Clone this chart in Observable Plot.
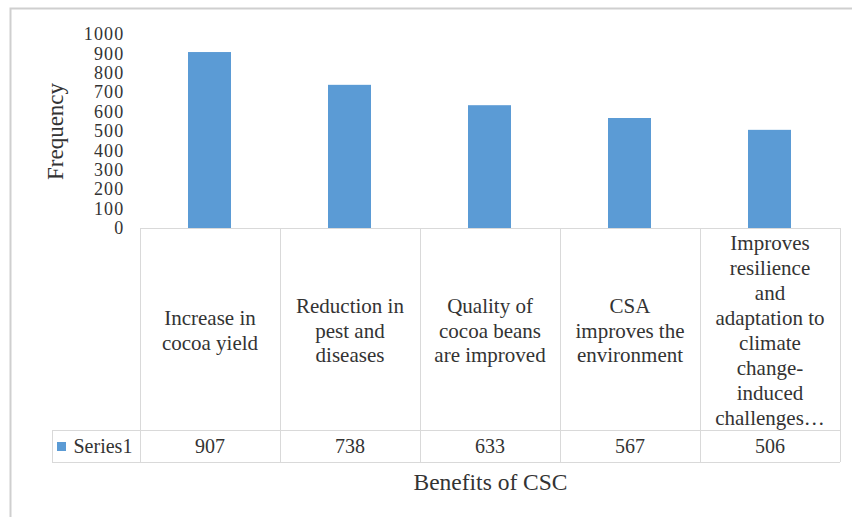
<!DOCTYPE html>
<html>
<head>
<meta charset="utf-8">
<script src="https://cdn.jsdelivr.net/npm/d3@7"></script>
<script src="https://cdn.jsdelivr.net/npm/@observablehq/plot@0.6"></script>
<style>
  html, body { margin: 0; padding: 0; background: #ffffff; }
  #chart { width: 852px; height: 517px; }
  #chart g[aria-label="y-axis tick label"] { letter-spacing: 1.2px; }
</style>
</head>
<body>
<div id="chart"></div>
<script>
// Benefits of climate-smart cocoa (CSC), frequency of responses
const categories = [
  "Increase in\ncocoa yield",
  "Reduction in\npest and\ndiseases",
  "Quality of\ncocoa beans\nare improved",
  "CSA\nimproves the\nenvironment",
  "Improves\nresilience\nand\nadaptation to\nclimate\nchange-\ninduced\nchallenges…"
];
const values = [907, 738, 633, 567, 506];
const yTicks = [0, 100, 200, 300, 400, 500, 600, 700, 800, 900, 1000];
const seriesName = "Series1";
const xTitle = "Benefits of CSC";
const yTitle = "Frequency";

const barColor = "#5b9bd5";
const gridColor = "#d9d9d9";
const textColor = "#333333";
const serif = "Liberation Serif";

const rows = categories.map((category, i) => ({category, value: values[i]}));

// Data-table geometry below the axis line
const headerRowHeight = 202;
const valueRowHeight = 32;

// Draws the data table grid, legend swatch and outer chart border
function dataTable(index, scales, channels, dims) {
  const {width, height, marginLeft, marginRight, marginBottom} = dims;
  const x0 = marginLeft, x1 = width - marginRight;
  const yAxis = height - marginBottom;
  const yRow = yAxis + headerRowHeight;
  const yEnd = yRow + valueRowHeight;
  const step = (x1 - x0) / categories.length;
  const legendLeft = x0 - 88;
  const g = d3.create("svg:g").attr("fill", "none").attr("stroke", gridColor).attr("stroke-width", 1);
  // outer chart border (top and left)
  g.append("path")
    .attr("d", `M10.5,${height}V8.5H${width}`)
    .attr("stroke", "#cfcfcf").attr("stroke-width", 2);
  // axis line / top of table
  g.append("path").attr("d", `M${x0},${yAxis + 0.5}H${x1}`);
  // row separators
  g.append("path").attr("d", `M${legendLeft},${yRow + 0.5}H${x1}`);
  g.append("path").attr("d", `M${legendLeft},${yEnd + 0.5}H${x1}`);
  g.append("path").attr("d", `M${legendLeft + 0.5},${yRow}V${yEnd}`);
  // column separators
  d3.range(categories.length + 1).forEach(i => {
    const x = Math.round(x0 + i * step) + 0.5;
    g.append("path").attr("d", `M${x},${yAxis}V${yEnd}`);
  });
  // legend swatch
  g.append("rect")
    .attr("x", legendLeft + 5).attr("y", yRow + 12)
    .attr("width", 9).attr("height", 9)
    .attr("fill", barColor).attr("stroke", "none");
  return g.node();
}

const chart = Plot.plot({
  width: 852,
  height: 517,
  marginLeft: 140,
  marginRight: 12,
  marginTop: 34,
  marginBottom: 289,
  style: {color: textColor, background: "transparent", overflow: "visible", fontFamily: serif},
  x: {domain: categories, paddingInner: 0.69, paddingOuter: 0.345, axis: null},
  y: {domain: [0, 1000], axis: null},
  marks: [
    Plot.barY(rows, {x: "category", y: "value", fill: barColor}),
    Plot.axisY({
      ticks: yTicks, tickSize: 0, tickPadding: 16, fontSize: 18,
      fontFamily: serif, label: null, tickFormat: d => String(d)
    }),
    // y axis title
    Plot.text([yTitle], {
      frameAnchor: "left", dx: -85, rotate: -90, textAnchor: "middle",
      fontSize: 23, fontFamily: serif, fill: textColor
    }),
    dataTable,
    // category names (table header row)
    Plot.text(rows, {
      x: "category", text: "category", frameAnchor: "bottom",
      dy: headerRowHeight / 2, lineAnchor: "middle", lineHeight: 1.19,
      fontSize: 21, fontFamily: serif, fill: textColor
    }),
    // values row
    Plot.text(rows, {
      x: "category", text: d => String(d.value), frameAnchor: "bottom",
      dy: headerRowHeight + valueRowHeight / 2, lineAnchor: "middle",
      fontSize: 20, fontFamily: serif, fill: textColor
    }),
    // series name in the legend cell
    Plot.text([seriesName], {
      frameAnchor: "bottom-left", dx: -67,
      dy: headerRowHeight + valueRowHeight / 2, lineAnchor: "middle",
      textAnchor: "start", fontSize: 20, fontFamily: serif, fill: textColor
    }),
    // x axis title
    Plot.text([xTitle], {
      frameAnchor: "bottom", dy: headerRowHeight + valueRowHeight + 20,
      lineAnchor: "middle", fontSize: 23.5, fontFamily: serif, fill: textColor
    })
  ]
});

document.getElementById("chart").append(chart);
</script>
</body>
</html>
